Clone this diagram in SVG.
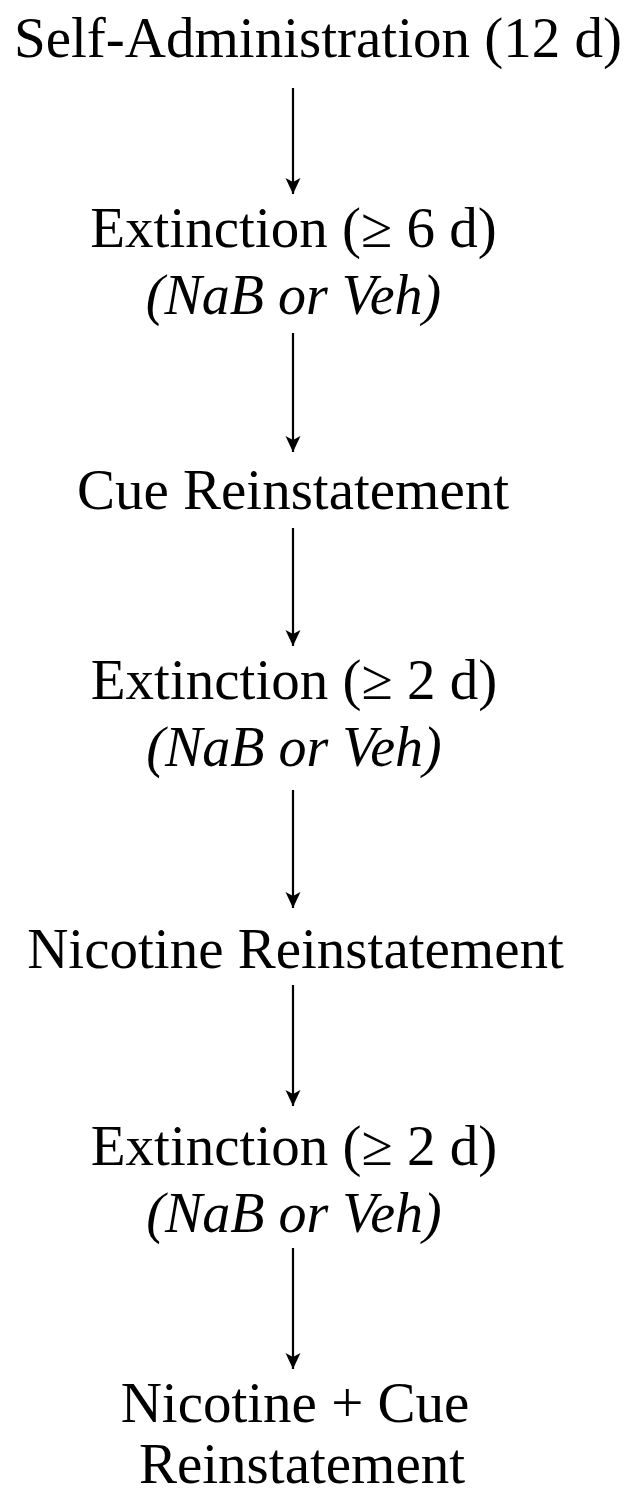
<svg xmlns="http://www.w3.org/2000/svg" width="626" height="1496" viewBox="0 0 626 1496">
<style>
.t{font-family:"Liberation Serif","Times New Roman",serif;font-size:57px;fill:#000;text-anchor:middle}
.i{font-style:italic;font-size:56px}
.c{stroke:#000;stroke-width:2.2;fill:none}
</style>
<defs>
<marker id="ah" viewBox="0 0 16 16" refX="16" refY="8" markerWidth="16" markerHeight="16" markerUnits="userSpaceOnUse" orient="auto">
<path d="M0,0.5 L16,8 L0,15.5 L4,8 z" fill="#000"/>
</marker>
</defs>
<rect width="626" height="1496" fill="#fff"/>
<g id="connectors">
<line class="c" x1="293" y1="88" x2="293" y2="194" marker-end="url(#ah)"/>
<line class="c" x1="293" y1="333" x2="293" y2="452" marker-end="url(#ah)"/>
<line class="c" x1="293" y1="528" x2="293" y2="646" marker-end="url(#ah)"/>
<line class="c" x1="293" y1="790" x2="293" y2="908" marker-end="url(#ah)"/>
<line class="c" x1="293" y1="985" x2="293" y2="1106" marker-end="url(#ah)"/>
<line class="c" x1="293" y1="1248" x2="293" y2="1369" marker-end="url(#ah)"/>
</g>
<g id="self-admin"><text class="t" x="318" y="57">Self-Administration (12 d)</text></g>
<g id="extinction1"><text class="t" x="293.5" y="247">Extinction (≥ 6 d)</text><text class="t i" x="293.5" y="314">(NaB or Veh)</text></g>
<g id="cue-reinstatement"><text class="t" x="293" y="509">Cue Reinstatement</text></g>
<g id="extinction2"><text class="t" x="294" y="699">Extinction (≥ 2 d)</text><text class="t i" x="294" y="766">(NaB or Veh)</text></g>
<g id="nicotine-reinstatement"><text class="t" x="295.5" y="968">Nicotine Reinstatement</text></g>
<g id="extinction3"><text class="t" x="294" y="1165">Extinction (≥ 2 d)</text><text class="t i" x="294" y="1232">(NaB or Veh)</text></g>
<g id="nicotine-cue"><text class="t" x="295" y="1422">Nicotine + Cue</text><text class="t" x="302" y="1483">Reinstatement</text></g>
</svg>
